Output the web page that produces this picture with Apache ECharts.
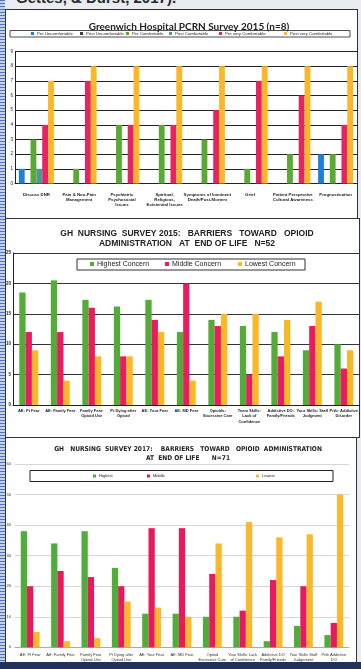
<!DOCTYPE html>
<html>
<head>
<meta charset="utf-8">
<script src="https://cdn.jsdelivr.net/npm/echarts@6/dist/echarts.min.js"></script>
<style>
  html, body { margin: 0; padding: 0; }
  body { width: 361px; height: 669px; position: relative; overflow: hidden; background: #e8ebef; }
  .strip { position: absolute; left: 0; top: 0; width: 5px; height: 669px;
    background: repeating-linear-gradient(180deg, #4f74b8 0 1px, #c3d1ec 1px 3px); }
  .bottom { position: absolute; left: 0; top: 662px; width: 361px; height: 7px; background: #21325a; }
  .panel { position: absolute; background: #fff; border: 1px solid #333; box-sizing: border-box; }
  .cite { position: absolute; left: 16px; top: -11px; font: bold 15px "Liberation Sans", Arial, sans-serif; color: #2a2a2a; white-space: nowrap; }
  #main { position: absolute; left: 0; top: 0; width: 361px; height: 669px; }
</style>
</head>
<body>
<div class="cite">Gettes, &amp; Durst, 2017).</div>
<div class="panel" style="left:5px;top:9px;width:353px;height:210px;"></div>
<div class="panel" style="left:5px;top:218px;width:355px;height:220px;"></div>
<div class="panel" style="left:5px;top:437px;width:352px;height:226px;"></div>
<div class="strip"></div>
<div class="bottom"></div>
<div id="main"></div>
<script>
// ---- chart 1: Greenwich Hospital PCRN Survey 2015 (n=8)
var pcrnTopics = ['Discuss DNR', 'Pain & Non-Pain\nManagement', 'Psychiatric\nPsychosocial\nIssues',
  'Spiritual,\nReligious,\nExistential Issues', 'Symptoms of Imminent\nDeath/Post-Mortem', 'Grief',
  'Patient Perspective\nCultural Awareness', 'Prognostication'];
var preUncomfortable = [1, 0, 0, 0, 0, 0, 0, 2];
var postUncomfortable = [0, 0, 0, 0, 0, 0, 0, 0];
var preComfortable = [3, 1, 4, 4, 3, 1, 2, 2];
var postComfortable = [1, 0, 0, 0, 0, 0, 0, 0];
var preVeryComfortable = [4, 7, 4, 4, 5, 7, 6, 4];
var postVeryComfortable = [7, 8, 8, 8, 8, 8, 8, 8];

// ---- chart 2: GH nursing survey 2015, N=52
var barriers2015 = ['AE: Pt Fear', 'AE: Family Fear', 'Family Fear:\nOpioid Use', 'Pt Dying after\nOpioid',
  'AE: Your Fear', 'AE: MD Fear', 'Opioids:\nExcessive Care', 'Team Skills:\nLack of\nConfidence',
  'Addictive DO:\nFamily/Friends', 'Your Skills: Staff\nJudgment', 'Prtb: Addictive\nDisorder'];
var highest2015 = [18.5, 20.5, 17.3, 16.2, 17.3, 12, 14, 13, 12, 9, 10];
var middle2015 = [12, 12, 16, 8, 14, 20, 13, 5, 8, 13, 6];
var lowest2015 = [9, 4, 8, 8, 12, 4, 15, 15, 14, 17, 9];

// ---- chart 3: GH nursing survey 2017, N=71
var barriers2017 = ['AE: Pt Fear', 'AE: Family Fear', 'Family Fear\nOpioid Use', 'Pt Dying after\nOpioid Use',
  'AE: Your Fear', 'AE: MD Fear', 'Opioid\nExcessive Care', 'Your Skills: Lack\nof Confidence',
  'Addictive DO\nFamily/Friends', 'Your Skills Staff\nJudgement', 'Prtb Addictive\nDO'];
var highest2017 = [38, 34, 38, 26, 11, 11, 10, 10, 2, 7, 4];
var middle2017 = [20, 25, 23, 20, 39, 39, 24, 12, 22, 20, 8];
var lowest2017 = [5, 2, 3, 15, 13, 10, 34, 41, 36, 37, 50];

var GREEN = '#55ab38', PINK = '#e81c5f', YELLOW = '#fab826';
var font = '"Liberation Sans", Arial, sans-serif';

function legendItem(name, x, y, size, fs) {
  return {
    left: x, top: y, itemWidth: size, itemHeight: size, icon: 'rect', padding: 0,
    data: [name], textStyle: { fontSize: fs, fontFamily: font, color: '#222', padding: [0, 0, 0, -2] }
  };
}

function bar(name, data, color, idx, gap) {
  return {
    name: name, type: 'bar', data: data, xAxisIndex: idx, yAxisIndex: idx,
    barGap: 0, barCategoryGap: gap, itemStyle: { color: color }
  };
}

var chart = echarts.init(document.getElementById('main'));
chart.setOption({
  animation: false,
  textStyle: { fontFamily: font },
  title: [
    { text: 'Greenwich Hospital PCRN Survey 2015 (n=8)', left: 184, top: 17, textAlign: 'center',
      textStyle: { fontSize: 10, fontWeight: 'bold', fontFamily: 'Lato, sans-serif', color: '#222' } },
    { text: 'GH  NURSING  SURVEY 2015:   BARRIERS   TOWARD   OPIOID\nADMINISTRATION   AT  END OF LIFE   N=52',
      left: 182, top: 224, textAlign: 'center',
      textStyle: { fontSize: 8.5, lineHeight: 10, fontWeight: 'bold', color: '#222' } },
    { text: 'GH   NURSING  SURVEY 2017:    BARRIERS   TOWARD   OPIOID  ADMINISTRATION\nAT  END OF LIFE      N=71',
      left: 183, top: 440, textAlign: 'center',
      textStyle: { fontSize: 6.6, lineHeight: 9, fontWeight: 'bold', color: '#222',
        fontFamily: '"Liberation Sans Narrow", "DejaVu Sans Condensed", sans-serif' } }
  ],
  legend: [
    legendItem('Pre Uncomfortable', 31, 31.5, 3, 4.3),
    legendItem('Post Uncomfortable', 80, 31.5, 3, 4.3),
    legendItem('Pre Comfortable', 126, 31.5, 3, 4.3),
    legendItem('Post Comfortable', 169, 31.5, 3, 4.3),
    legendItem('Pre very Comfortable', 219, 31.5, 3, 4.3),
    legendItem('Post very Comfortable', 284, 31.5, 3, 4.3),
    legendItem('Highest Concern', 90, 260.5, 4, 7),
    legendItem('Middle Concern', 165, 260.5, 4, 7),
    legendItem('Lowest Concern', 238, 260.5, 4, 7),
    legendItem('Highest', 93, 474, 3, 4),
    legendItem('Middle', 147, 474, 3, 4),
    legendItem('Lowest', 256, 474, 3, 4)
  ],
  graphic: [
    { type: 'rect', z: 1, shape: { x: 10, y: 30.5, width: 340, height: 6.5 },
      style: { fill: '#fff', stroke: '#222', lineWidth: 0.8 } },
    { type: 'rect', z: 1, shape: { x: 77, y: 259, width: 228, height: 11 },
      style: { fill: '#fff', stroke: '#333', lineWidth: 1 } },
    { type: 'rect', z: 1, shape: { x: 30, y: 470.5, width: 303, height: 11 },
      style: { fill: '#fff', stroke: '#222', lineWidth: 1 } }
  ],
  grid: [
    { left: 15, right: 4, top: 51.5, height: 132 },
    { left: 13, right: 0, top: 253, height: 152 },
    { left: 15, right: 12, top: 464, height: 183.3 }
  ],
  xAxis: [
    { type: 'category', gridIndex: 0, data: pcrnTopics,
      axisLine: { lineStyle: { color: '#222' } }, axisTick: { show: false },
      axisLabel: { interval: 0, fontSize: 4.3, lineHeight: 5, fontWeight: 'bold', color: '#222', margin: 9 } },
    { type: 'category', gridIndex: 1, data: barriers2015,
      axisLine: { lineStyle: { color: '#222' } }, axisTick: { show: false },
      axisLabel: { interval: 0, fontSize: 4, lineHeight: 5.5, fontWeight: 'bold', color: '#222', margin: 3 } },
    { type: 'category', gridIndex: 2, data: barriers2017,
      axisLine: { lineStyle: { color: '#aaa' } }, axisTick: { show: false },
      axisLabel: { interval: 0, fontSize: 4, lineHeight: 5, color: '#333', margin: 5 } }
  ],
  yAxis: [
    { type: 'value', gridIndex: 0, min: 0, max: 9, interval: 1,
      axisLine: { show: true, lineStyle: { color: '#222' } }, axisTick: { show: false },
      splitLine: { lineStyle: { color: '#222', width: 1 } },
      axisLabel: { fontSize: 4.5, color: '#222', margin: 2 } },
    { type: 'value', gridIndex: 1, min: 0, max: 25, interval: 5,
      axisLine: { show: true, lineStyle: { color: '#222' } }, axisTick: { show: false },
      splitLine: { lineStyle: { color: '#333', width: 1 } },
      axisLabel: { fontSize: 4.5, fontWeight: 'bold', color: '#222', margin: 2 } },
    { type: 'value', gridIndex: 2, min: 0, max: 60, interval: 10,
      axisLine: { show: false }, axisTick: { show: false },
      splitLine: { lineStyle: { color: '#d6d6d6', width: 1 } },
      axisLabel: { fontSize: 4, color: '#333', margin: 4 } }
  ],
  series: [
    bar('Pre Uncomfortable', preUncomfortable, '#1d7fd8', 0, '18%'),
    bar('Post Uncomfortable', postUncomfortable, '#2f4a34', 0, '18%'),
    bar('Pre Comfortable', preComfortable, '#58aa35', 0, '18%'),
    bar('Post Comfortable', postComfortable, '#4d9a92', 0, '18%'),
    bar('Pre very Comfortable', preVeryComfortable, '#e6245f', 0, '18%'),
    bar('Post very Comfortable', postVeryComfortable, '#fbb728', 0, '18%'),
    bar('Highest Concern', highest2015, GREEN, 1, '40%'),
    bar('Middle Concern', middle2015, PINK, 1, '40%'),
    bar('Lowest Concern', lowest2015, YELLOW, 1, '40%'),
    bar('Highest', highest2017, '#50ad3a', 2, '38%'),
    bar('Middle', middle2017, '#e8195d', 2, '38%'),
    bar('Lowest', lowest2017, '#fbb82a', 2, '38%')
  ]
});
</script>
</body>
</html>
